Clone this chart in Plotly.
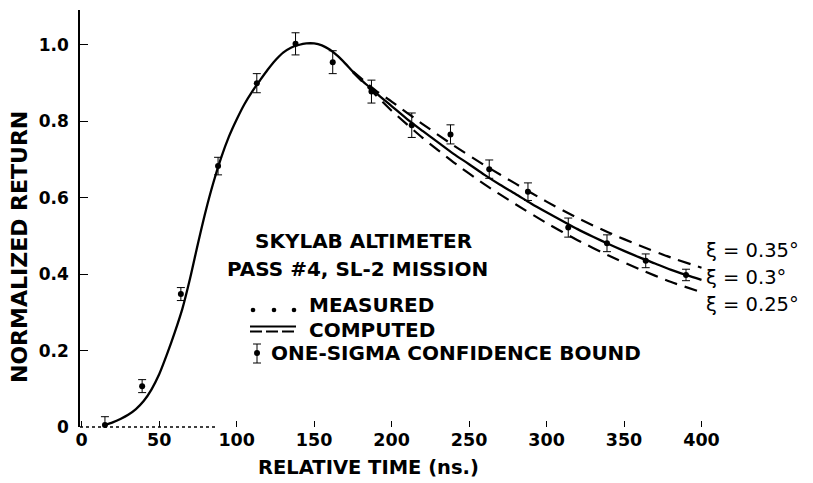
import plotly.graph_objects as go

# ---------------- data ----------------
# measured returns (relative time ns, normalized return, one-sigma half width)
meas_t = [15, 39, 64, 88, 113, 138, 162, 187, 213, 238, 263, 288, 314, 339, 364, 390]
meas_y = [0.005, 0.107, 0.348, 0.683, 0.900, 1.003, 0.955, 0.878, 0.790, 0.766,
          0.675, 0.616, 0.522, 0.481, 0.435, 0.398]
meas_err = [0.022, 0.017, 0.017, 0.023, 0.025, 0.029, 0.030, 0.030, 0.032, 0.025,
            0.024, 0.023, 0.025, 0.022, 0.018, 0.015]

# computed waveform, xi = 0.3 deg (solid)
comp_t = [15, 20, 25, 30, 35, 40, 45, 50, 55, 60, 65, 70, 75, 80, 85, 90, 95, 100,
          105, 110, 115, 120, 125, 130, 135, 140, 145, 150, 155, 160, 165, 170, 175,
          180, 185, 190, 200, 210, 220, 230, 240, 250, 260, 270, 280, 290, 300, 310,
          320, 330, 340, 350, 360, 370, 380, 390, 400]
comp_y = [0.005, 0.012, 0.021, 0.032, 0.047, 0.068, 0.098, 0.138, 0.190, 0.247, 0.310,
          0.390, 0.480, 0.565, 0.640, 0.705, 0.760, 0.805, 0.845, 0.878, 0.907, 0.935,
          0.960, 0.980, 0.993, 1.000, 1.004, 1.004, 0.999, 0.988, 0.972, 0.952, 0.930,
          0.910, 0.892, 0.874, 0.840, 0.806, 0.775, 0.745, 0.715, 0.688, 0.660, 0.634,
          0.610, 0.585, 0.562, 0.540, 0.518, 0.498, 0.479, 0.461, 0.444, 0.428, 0.412,
          0.398, 0.385]

# computed tails for xi = 0.35 deg (upper dashed) and xi = 0.25 deg (lower dashed)
alt_t = [175, 190, 200, 220, 240, 260, 280, 300, 320, 340, 360, 380, 400]
upper_y = [0.931, 0.880, 0.852, 0.793, 0.737, 0.685, 0.637, 0.590, 0.547, 0.509,
           0.475, 0.444, 0.417]
lower_y = [0.929, 0.868, 0.828, 0.757, 0.693, 0.635, 0.583, 0.534, 0.489, 0.449,
           0.413, 0.380, 0.353]

x_tickvals = [0, 50, 100, 150, 200, 250, 300, 350, 400]
x_ticktext = ["0", "50", "100", "150", "200", "250", "300", "350", "400"]
y_tickvals = [0, 0.2, 0.4, 0.6, 0.8, 1.0]
y_ticktext = ["0", "0.2", "0.4", "0.6", "0.8", "1.0"]

xi_labels = ["\u03be = 0.35\u00b0", "\u03be = 0.3\u00b0", "\u03be = 0.25\u00b0"]

# ---------------- layout geometry ----------------
# the page body has an 8px margin, so the figure is drawn 8px in from the corner
OFF = 8
W, H = 813 - OFF, 483 - OFF
PLOT_L, PLOT_R, PLOT_T, PLOT_B = 80, 717, 10, 427     # plot area in window pixels
ML, MT = PLOT_L - OFF, PLOT_T - OFF
MR, MB = W - (PLOT_R - OFF), H - (PLOT_B - OFF)
PW, PH = PLOT_R - PLOT_L, PLOT_B - PLOT_T


def paper(px, py):
    """window pixel -> paper coordinates"""
    return (px - PLOT_L) / PW, (PLOT_B - py) / PH


FONT = "DejaVu Sans"
BOLD = dict(family=FONT, size=20, color="black", weight="bold")

fig = go.Figure()

for ys in (upper_y, lower_y):
    fig.add_trace(go.Scatter(x=alt_t, y=ys, mode="lines",
                             line=dict(color="black", width=2.2, dash="13px,8px",
                                       shape="spline", smoothing=0.6),
                             hoverinfo="skip"))
fig.add_trace(go.Scatter(x=comp_t, y=comp_y, mode="lines",
                         line=dict(color="black", width=2.3, shape="spline", smoothing=0.8),
                         hoverinfo="skip"))
fig.add_trace(go.Scatter(x=meas_t, y=meas_y, mode="markers",
                         marker=dict(color="black", size=6),
                         error_y=dict(type="data", array=meas_err, color="black",
                                      thickness=1, width=4),
                         cliponaxis=False))

shapes = []
# faint dotted x-axis stub near the origin
x0, y0 = paper(80, 427)
x1, _ = paper(215, 427)
shapes.append(dict(type="line", xref="paper", yref="paper", x0=x0, y0=y0, x1=x1, y1=y0,
                   line=dict(color="black", width=1.5, dash="dot")))

# legend icons
for dx in (253, 274, 294):
    cx, cy = paper(dx, 310)
    r = 2.3
    shapes.append(dict(type="circle", xref="paper", yref="paper",
                       x0=cx - r / PW, x1=cx + r / PW, y0=cy - r / PH, y1=cy + r / PH,
                       fillcolor="black", line=dict(width=0)))
a, b = paper(250, 326.5)
c, _ = paper(296, 326.5)
shapes.append(dict(type="line", xref="paper", yref="paper", x0=a, x1=c, y0=b, y1=b,
                   line=dict(color="black", width=2)))
a, b = paper(250, 331.5)
shapes.append(dict(type="line", xref="paper", yref="paper", x0=a, x1=c, y0=b, y1=b,
                   line=dict(color="black", width=2, dash="12px,4px")))
ex, ey_top = paper(257, 344)
_, ey_bot = paper(257, 363)
shapes.append(dict(type="line", xref="paper", yref="paper", x0=ex, x1=ex, y0=ey_bot, y1=ey_top,
                   line=dict(color="black", width=1)))
for yy in (ey_top, ey_bot):
    shapes.append(dict(type="line", xref="paper", yref="paper",
                       x0=ex - 4 / PW, x1=ex + 4 / PW, y0=yy, y1=yy,
                       line=dict(color="black", width=1)))
cx, cy = paper(257, 353)
shapes.append(dict(type="circle", xref="paper", yref="paper",
                   x0=cx - 3 / PW, x1=cx + 3 / PW, y0=cy - 3 / PH, y1=cy + 3 / PH,
                   fillcolor="black", line=dict(width=0)))

annotations = []


def add_text(text, px, py, xanchor="center", font=None, angle=0):
    x, y = paper(px, py)
    annotations.append(dict(text=text, x=x, y=y, xref="paper", yref="paper",
                            xanchor=xanchor, yanchor="middle", showarrow=False,
                            font=font or BOLD, textangle=angle, borderpad=0))


add_text("SKYLAB ALTIMETER", 363, 241)
add_text("PASS #4, SL-2 MISSION", 357, 269)
add_text("MEASURED", 308, 305, xanchor="left")
add_text("COMPUTED", 308, 330, xanchor="left")
add_text("ONE-SIGMA CONFIDENCE BOUND", 270, 353, xanchor="left")
add_text("RELATIVE TIME (ns.)", 368, 467,
         font=dict(family=FONT, size=19.5, color="black", weight="bold"))
add_text("NORMALIZED RETURN", 19, 247,
         font=dict(family=FONT, size=22, color="black", weight="bold"), angle=-90)
xi_font = dict(family=FONT, size=19.5, color="black")
for lbl, py in zip(xi_labels, (250, 277, 304)):
    add_text(lbl, 705, py, xanchor="left", font=xi_font)

fig.update_layout(
    width=W, height=H,
    margin=dict(l=ML, r=MR, t=MT, b=MB, pad=0, autoexpand=False),
    paper_bgcolor="white", plot_bgcolor="white",
    showlegend=False,
    shapes=shapes, annotations=annotations,
    xaxis=dict(range=[-1.1, 410], tickvals=x_tickvals, ticktext=x_ticktext,
               ticks="inside", ticklen=6, tickwidth=1, tickcolor="black",
               showline=False, showgrid=False, zeroline=False,
               tickfont=dict(family=FONT, size=17.5, color="black", weight="bold")),
    yaxis=dict(range=[0, 1.0916], tickvals=y_tickvals, ticktext=y_ticktext,
               ticks="inside", ticklen=8, tickwidth=1, tickcolor="black",
               showline=True, linewidth=1.5, linecolor="black",
               showgrid=False, zeroline=False, ticklabelstandoff=6,
               tickfont=dict(family=FONT, size=17, color="black", weight="bold")),
)

fig.write_html("out.html")
